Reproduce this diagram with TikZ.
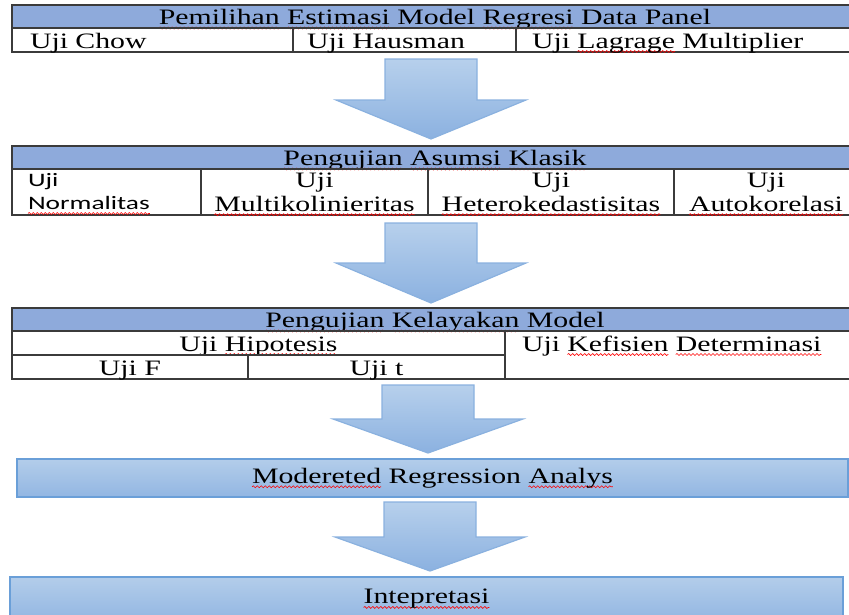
\documentclass[tikz,border=0pt]{standalone}
\usepackage{fontspec}
\setmainfont{Liberation Serif}[FakeStretch=1.355]
\newfontfamily\calfont{Carlito}[FakeStretch=1.44]
\usepackage{tikz}
\usetikzlibrary{decorations.pathmorphing}
\tikzset{>=latex}
\usepackage{xcolor}
\definecolor{headblue}{HTML}{8EAADB}
\definecolor{tabline}{HTML}{3B3B3B}
\definecolor{arrowtop}{HTML}{B7D0EC}
\definecolor{arrowbot}{HTML}{8BB1E0}
\definecolor{arrowline}{HTML}{8AB1DF}
\definecolor{boxtop}{HTML}{B3CDEA}
\definecolor{boxbot}{HTML}{92B6E2}
\definecolor{boxline}{HTML}{6A9FD8}
\newsavebox\wavebox
\newcommand\redwave[1]{\leavevmode\sbox\wavebox{#1}\rlap{\tikz[overlay]\draw[red,line width=0.6pt,decorate,
  decoration={snake,amplitude=1pt,segment length=4pt}] (0pt,-3.5pt) -- (\wd\wavebox,-3.5pt);}\usebox\wavebox}
\tikzstyle{cell}=[draw=tabline,line width=1.6pt,anchor=north west,inner sep=0pt,outer sep=0pt,minimum height=24pt,text height=19pt,text depth=3pt]
\tikzstyle{head}=[cell,fill=headblue,minimum height=23pt]
\tikzstyle{twoline}=[draw=tabline,line width=1.6pt,anchor=north west,inner sep=0pt,outer sep=0pt,minimum height=46pt,align=center]
\tikzstyle{stepbox}=[draw=boxline,line width=1.8pt,top color=boxtop,bottom color=boxbot,anchor=north west,inner sep=0pt,outer sep=0pt]
\tikzstyle{blockarrow}=[draw=arrowline,line width=1.2pt,top color=arrowtop,bottom color=arrowbot,line join=miter]

\begin{document}
\begin{tikzpicture}[x=1pt,y=-1pt]
  \tikzstyle{every node}=[font=\fontsize{22}{24}\selectfont]
  \useasboundingbox (0,0) rectangle (849,614);
  \clip (0,0) rectangle (849,614);

  % tabel 1
  \node[head,minimum width=846pt] (t1h) at (12,5)
    {\redwave{Pemilihan} \redwave{Estimasi} Model \redwave{Regresi} Data Panel};
  \node[cell,minimum width=281pt,text width=245pt,inner xsep=18pt,align=left] (chow) at (t1h.south west) {Uji Chow};
  \node[cell,minimum width=223pt,text width=195pt,inner xsep=14pt,align=left] (haus) at (chow.north east) {Uji Hausman};
  \node[cell,minimum width=342pt,text width=310pt,inner xsep=16pt,align=left] (lm) at (haus.north east) {Uji \redwave{Lagrage} Multiplier};

  % tabel 2
  \node[head,minimum width=846pt] (t2h) at (12,146)
    {\redwave{Pengujian} \redwave{Asumsi} \redwave{Klasik}};
  \node[twoline,minimum width=189pt,text width=157pt,inner xsep=16pt,align=left,
        font=\calfont\fontsize{19}{23}\selectfont] (norm) at (t2h.south west) {Uji\\\redwave{Normalitas}};
  \node[twoline,minimum width=227pt] (multi) at (norm.north east) {Uji\\\redwave{Multikolinieritas}};
  \node[twoline,minimum width=246pt] (hetero) at (multi.north east) {Uji\\\redwave{Heterokedastisitas}};
  \node[twoline,minimum width=184pt] (auto) at (hetero.north east) {Uji\\\redwave{Autokorelasi}};

  % tabel 3
  \node[head,minimum width=846pt] (t3h) at (12,308)
    {\redwave{Pengujian} \redwave{Kelayakan} Model};
  \node[cell,minimum width=493pt] (hipo) at (t3h.south west) {Uji \redwave{Hipotesis}};
  \node[cell,minimum width=236pt] (ujif) at (hipo.south west) {Uji F};
  \node[cell,minimum width=257pt] (ujit) at (ujif.north east) {Uji t};
  \node[cell,minimum width=353pt,minimum height=48pt,text width=319pt,inner xsep=17pt,align=left,
        text depth=27pt] (kd) at (hipo.north east) {Uji \redwave{Kefisien} \redwave{Determinasi}};

  % kotak
  \node[stepbox,minimum width=831pt,minimum height=38pt] (mra) at (17,459)
    {\redwave{Modereted} Regression \redwave{Analys}};
  \node[stepbox,minimum width=833pt,minimum height=44pt] (intp) at (10,577) {\redwave{Intepretasi}};

  % panah
  \foreach \ax/\atop/\amid/\atip in {431/59/100/139, 431/223/263/303, 428/385/419/453, 430/502/537/571}
    \draw[blockarrow] (\ax-46,\atop) -- (\ax+46,\atop) -- (\ax+46,\amid) -- (\ax+95,\amid)
                      -- (\ax,\atip) -- (\ax-95,\amid) -- (\ax-46,\amid) -- cycle;
\end{tikzpicture}
\end{document}
